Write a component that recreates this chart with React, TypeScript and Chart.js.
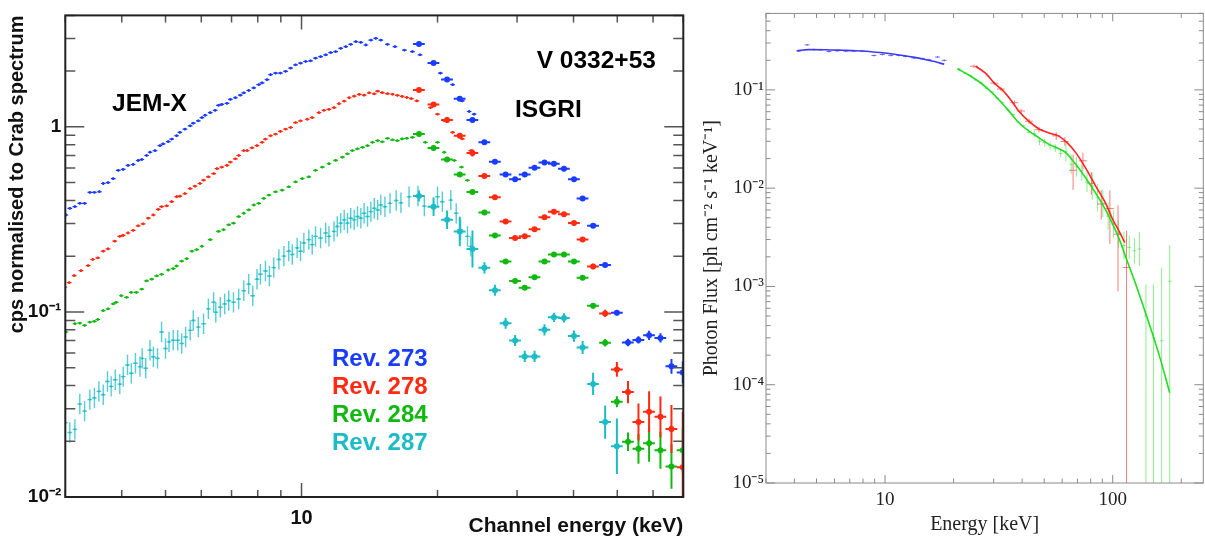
import React, { useEffect, useRef } from 'react';
import { Chart, registerables } from 'chart.js';

Chart.register(...registerables);

// ================= LEFT PANEL DATA (cps normalised to Crab) =================
// JEM-X, Rev. 273 (blue)
const jemBlueE = [3.01,3.07,3.15,3.23,3.31,3.40,3.48,3.57,3.64,3.73,
  3.83,3.93,4.03,4.13,4.24,4.35,4.43,4.54,4.62,4.74,
  4.86,4.94,5.07,5.16,5.29,5.38,5.52,5.67,5.76,5.91,
  6.02,6.12,6.28,6.44,6.55,6.66,6.84,6.96,7.14,7.32,
  7.45,7.64,7.84,8.04,8.18,8.39,8.54,8.76,8.98,9.22,
  9.46,9.70,9.95,10.21,10.47,10.74,11.02,11.31,11.60,11.90,
  12.21,12.53,12.85,13.19,13.53,13.88,14.24,14.60,14.98,15.5,
  16.1,16.9,17.6,18.3,20.3,21.6,22.7,23.5,24.1];
const jemBlueV = [0.334,0.363,0.371,0.386,0.386,0.442,0.442,0.446,0.494,0.500,
  0.525,0.582,0.589,0.619,0.626,0.658,0.666,0.700,0.729,0.744,
  0.792,0.808,0.832,0.859,0.895,0.933,0.972,1.013,1.047,1.077,
  1.122,1.155,1.193,1.228,1.306,1.322,1.339,1.406,1.436,1.483,
  1.526,1.571,1.623,1.692,1.727,1.799,1.913,1.953,1.953,1.994,
  2.077,2.163,2.209,2.254,2.273,2.349,2.398,2.447,2.519,2.550,
  2.657,2.712,2.791,2.884,2.860,2.768,2.944,3.006,2.944,2.79,
  2.71,2.60,2.55,2.45,1.95,1.69,1.38,1.21,1.17];

// JEM-X, Rev. 278 (red)
const jemRedE = [2.99,3.06,3.14,3.25,3.37,3.45,3.54,3.64,3.73,3.86,
  3.96,4.03,4.13,4.24,4.35,4.46,4.58,4.70,4.82,4.90,
  5.03,5.16,5.29,5.38,5.52,5.67,5.81,5.96,6.07,6.22,
  6.39,6.50,6.66,6.84,6.96,7.14,7.26,7.45,7.58,7.77,
  7.97,8.18,8.32,8.54,8.76,8.98,9.22,9.46,9.70,9.95,
  10.30,10.56,10.93,11.21,11.50,11.80,12.11,12.43,12.75,13.08,
  13.42,13.76,14.12,14.49,14.74,15.1,15.5,15.9,16.3,16.7,
  17.1,17.5,18.0,19.3,20.0,20.7,21.6,22.7,23.7];
const jemRedV = [0.136,0.144,0.157,0.167,0.178,0.192,0.196,0.213,0.219,0.241,
  0.256,0.259,0.267,0.276,0.292,0.299,0.321,0.334,0.358,0.371,
  0.374,0.394,0.419,0.422,0.436,0.464,0.478,0.494,0.515,0.536,
  0.559,0.594,0.606,0.619,0.645,0.672,0.700,0.744,0.744,0.769,
  0.792,0.825,0.859,0.895,0.914,0.945,0.972,0.992,1.055,1.077,
  1.099,1.122,1.193,1.228,1.243,1.269,1.333,1.378,1.436,1.465,
  1.496,1.483,1.527,1.508,1.558,1.53,1.51,1.50,1.48,1.46,
  1.44,1.42,1.38,1.27,1.17,1.08,0.933,0.86,0.744];

// JEM-X, Rev. 284 (green)
const jemGreenE = [3.01,3.15,3.23,3.31,3.40,3.48,3.54,3.64,3.73,3.83,
  3.89,3.99,4.10,4.20,4.31,4.43,4.54,4.66,4.78,4.90,
  5.07,5.20,5.29,5.43,5.57,5.72,5.86,6.02,6.28,6.55,
  6.72,6.90,7.07,7.26,7.45,7.64,7.84,8.04,8.25,8.47,
  8.76,9.06,9.37,9.70,10.04,10.38,10.74,11.12,11.50,11.90,
  12.32,12.64,12.96,13.30,13.65,14.00,14.36,14.74,15.1,15.5,
  15.9,16.3,16.7,17.1,17.6,18.8,20.0,20.7,21.8,22.6,
  23.3];
const jemGreenV = [0.0779,0.0863,0.0870,0.0845,0.0881,0.0888,0.0910,0.1017,0.1038,0.1104,
  0.1127,0.1223,0.1199,0.1274,0.1274,0.1328,0.1471,0.1502,0.1564,0.1597,
  0.1684,0.1713,0.1770,0.1882,0.1937,0.2129,0.2173,0.2264,0.2458,0.2723,
  0.2780,0.2956,0.3017,0.3276,0.3412,0.3555,0.3781,0.3860,0.4106,0.4277,
  0.4457,0.4549,0.4740,0.5040,0.5252,0.5361,0.5818,0.6062,0.6316,0.6581,
  0.6858,0.7144,0.7444,0.7600,0.7753,0.7914,0.8250,0.8419,0.83,0.867,
  0.85,0.842,0.86,0.867,0.877,0.825,0.825,0.729,0.658,0.606,
  0.514];

// JEM-X, Rev. 287 (cyan)
const jemCyanE = [3.00,3.07,3.15,3.23,3.31,3.40,3.48,3.56,3.64,3.72,
  3.79,3.87,3.96,4.03,4.12,4.20,4.29,4.39,4.44,4.52,
  4.62,4.70,4.80,4.90,5.00,5.09,5.20,5.32,5.43,5.54,
  5.67,5.76,5.91,6.07,6.22,6.39,6.46,6.61,6.76,6.90,
  7.07,7.26,7.45,7.64,7.80,7.97,8.11,8.32,8.49,8.68,
  8.91,9.14,9.37,9.54,9.78,9.95,10.12,10.38,10.56,10.74,
  11.02,11.31,11.50,11.80,12.00,12.21,12.43,12.64,12.85,13.08,
  13.30,13.53,13.76,14.00,14.24,14.49,14.74,14.98,15.3,15.7,
  16.2,16.6,17.3,18.1,18.7,20.0,20.5,21.4,22.0,22.5,
  23.3,23.7];
const jemCyanV = [0.0252,0.0223,0.0232,0.0318,0.0291,0.0336,0.0343,0.0372,0.0357,0.0421,
  0.0396,0.0430,0.0407,0.0447,0.0517,0.0466,0.0528,0.0506,0.0561,0.0496,
  0.0621,0.0572,0.0561,0.0779,0.0634,0.0689,0.0703,0.0703,0.0675,0.0732,
  0.0795,0.0899,0.0828,0.0863,0.1038,0.1127,0.0996,0.1060,0.1104,0.1150,
  0.1127,0.1174,0.1301,0.1412,0.1223,0.1502,0.1597,0.1664,0.1564,0.1734,
  0.1921,0.2002,0.2129,0.2043,0.2218,0.2129,0.2359,0.2458,0.2311,0.2560,
  0.2508,0.2668,0.2560,0.2723,0.2895,0.3017,0.3143,0.3017,0.3208,0.3143,
  0.3276,0.3208,0.3412,0.3276,0.3483,0.3630,0.3555,0.3781,0.370,0.386,
  0.40,0.389,0.419,0.423,0.373,0.419,0.394,0.402,0.341,0.278,
  0.256,0.226];

// ISGRI (shared energy bins, keV)
const isgriE = [18.2,19.6,21.0,22.4,23.9,25.4,26.8,28.3,29.7,31.2,32.8,34.5,36.2,38.1,40.1,41.9,44.2,47.0,49.9,52.8,55.7,58.8,62.3,65.9,69.8];
const isgriBlue = [2.80,2.21,1.80,1.42,1.09,0.825,0.647,0.552,0.521,0.552,0.601,0.642,0.632,0.594,0.521,0.410,0.292,0.179,0.099,0.0684,0.0706,0.0748,0.0724,0.0508,0.0471];
const isgriBlueErr = [0.01,0.01,0.012,0.012,0.012,0.01,0.01,0.01,0.01,0.01,0.01,0.01,0.01,0.01,0.01,0.01,0.012,0.012,0.015,0.02,0.02,0.025,0.025,0.04,0.06];
const isgriRed = [1.58,1.32,1.09,0.895,0.723,0.543,0.416,0.308,0.251,0.256,0.280,0.325,0.348,0.337,0.302,0.246,0.176,0.0982,0.0489,0.0369,0.0254,0.0289,0.0271,0.0233,0.0145];
const isgriRedErr = [0.01,0.01,0.015,0.012,0.02,0.01,0.01,0.01,0.01,0.01,0.01,0.01,0.01,0.01,0.01,0.012,0.015,0.02,0.04,0.06,0.1,0.11,0.11,0.13,0.3];
const isgriGreen = [0.914,0.769,0.666,0.552,0.445,0.344,0.259,0.187,0.147,0.135,0.154,0.187,0.204,0.204,0.187,0.153,0.108,0.0681,0.0327,0.0199,0.0182,0.0195,0.0179,0.0146,0.0179];
const isgriGreenErr = [0.01,0.01,0.012,0.012,0.012,0.01,0.01,0.01,0.01,0.01,0.01,0.01,0.01,0.01,0.01,0.012,0.015,0.02,0.03,0.05,0.08,0.1,0.1,0.12,0.12];
const isgriCyan = [0.423,0.37,0.315,0.272,0.219,0.173,0.131,0.0869,0.0701,0.0575,0.0575,0.0800,0.0935,0.0928,0.0740,0.0643,0.0408,0.0254,0.0188];
const isgriCyanErr = [0.03,0.05,0.05,0.08,0.1,0.03,0.03,0.03,0.03,0.03,0.03,0.03,0.025,0.025,0.03,0.035,0.06,0.09,0.15];

const legendRevs = ['Rev. 273', 'Rev. 278', 'Rev. 284', 'Rev. 287'];

// ================= RIGHT PANEL DATA (photon flux) =================
const fitBlueE = [4.1,4.6,5.5,6.5,7.5,8.5,9.5,10.8,12.0,13.5,15.0,16.5,18.2];
const fitBlueF = [0.250,0.257,0.256,0.253,0.250,0.246,0.240,0.232,0.224,0.214,0.204,0.194,0.182];
const datBlueE = [4.18,4.55,4.87,5.21,5.67,6.17,6.72,7.31,7.95,8.94,9.73,10.6,11.5,12.3,13.4,14.6,15.6,17.0,18.2];
const datBlueF = [0.248,0.287,0.257,0.2555,0.2457,0.2497,0.248,0.248,0.248,0.224,0.229,0.224,0.224,0.219,0.211,0.2075,0.2027,0.2158,0.1995];

const fitRedE = [25.0,27.7,30.2,32.8,35.7,38.8,42.9,47.5,52.5,58.0,63.2,68.8,76.1,84.2,93.1,100,107,113];
const fitRedF = [0.174,0.147,0.117,0.0995,0.079,0.0604,0.0478,0.040,0.0365,0.0338,0.0289,0.023,0.0160,0.0105,0.0070,0.0048,0.0036,0.0028];
const datRedE = [24.6,30.2,32.3,37.0,39.6,42.9,47.5,56.5,61.6,67.0,74.0,80.6,89.1,97.2,105.5];
const datRedF = [0.174,0.117,0.102,0.074,0.061,0.048,0.0394,0.0341,0.0298,0.0152,0.0190,0.0112,0.0069,0.0062,0.0034];
const datRedHi = [0.181,0.122,0.107,0.078,0.064,0.051,0.042,0.037,0.033,0.022,0.023,0.0145,0.0095,0.0095,0.0067];
const datRedLo = [0.167,0.112,0.097,0.070,0.058,0.045,0.037,0.031,0.027,0.0096,0.0155,0.0086,0.0048,0.0027,0.00089];
const limRedE = [115];
const limRedF = [0.00156];
const limRedHi = [0.0037];

const fitGreenE = [20.8,23.4,25.9,28.7,31.7,35.1,38.8,42.9,47.5,52.5,58.0,62.2,68.8,76.1,84.2,93.1,100,107,114,125,140,160,178];
const fitGreenF = [0.164,0.141,0.121,0.0995,0.079,0.0604,0.046,0.038,0.0325,0.0279,0.0252,0.0230,0.0175,0.0127,0.0089,0.0060,0.0043,0.0030,0.0020,0.00112,0.00052,0.00020,0.000083];
const datGreenE = [21.2,22.4,23.7,25.0,26.4,27.9,29.5,31.1,32.8,34.6,36.5,38.5,40.6,42.8,45.2,47.7,50.3,53.1,56.0,59.1,62.3,65.7,69.3,73.1,77.1,81.3,85.8,90.5,95.5,100.7,106.2,112.0,118.2,124.6,131.0];
const datGreenF = [0.163,0.148,0.140,0.126,0.118,0.104,0.095,0.082,0.074,0.063,0.056,0.047,0.043,0.037,0.036,0.030,0.029,0.027,0.0255,0.0225,0.0235,0.0175,0.0165,0.0150,0.0115,0.0105,0.0080,0.0070,0.0052,0.0043,0.0034,0.0026,0.0025,0.0023,0.0024];
const datGreenErr = [0.01,0.01,0.01,0.01,0.01,0.01,0.01,0.01,0.01,0.01,0.01,0.01,0.01,0.01,0.04,0.04,0.04,0.04,0.04,0.04,0.1,0.1,0.1,0.1,0.1,0.14,0.14,0.14,0.14,0.14,0.14,0.14,0.12,0.13,0.17];
const limGreenE = [140,151,164,178];
const limGreenF = [0.0005,0.0003,0.00028,0.00113];
const limGreenHi = [0.00105,0.00105,0.00155,0.00263];

// tick labels
const leftXTickVals = [10];
const leftXTickText = ['10'];
const leftYTickVals = [0.01, 0.1, 1];
const leftYTickText = ['10⁻²', '10⁻¹', '1'];
const rightXTickVals = [10, 100];
const rightXTickText = ['10', '100'];
const rightYTickVals = [1e-5, 1e-4, 1e-3, 1e-2, 1e-1];
const rightYTickText = ['10⁻⁵', '10⁻⁴', '10⁻³', '10⁻²', '10⁻¹'];

// ================= helpers =================
const SANS = '"Liberation Sans", Arial, Helvetica, sans-serif';
const SERIF = '"Liberation Serif", "Times New Roman", Times, serif';
const C_BLUE = '#1a3cff';
const C_RED = '#ff2a12';
const C_GREEN = '#10b810';
const C_CYAN = '#1cbcc6';

function pts(xs: number[], ys: number[]) {
  return xs.map((x, i) => ({ x, y: ys[i] }));
}

function labelFor(vals: number[], texts: string[]) {
  return (value: any) => {
    const v = Number(value);
    for (let i = 0; i < vals.length; i++) {
      if (Math.abs(Math.log10(v) - Math.log10(vals[i])) < 1e-6) return texts[i];
    }
    return null;
  };
}

function logSteps(min: number, max: number) {
  const out: { v: number; major: boolean }[] = [];
  const e0 = Math.floor(Math.log10(min));
  const e1 = Math.ceil(Math.log10(max));
  for (let e = e0; e <= e1; e++) {
    for (let k = 1; k <= 9; k++) {
      const v = k * Math.pow(10, e);
      if (v >= min * 0.9999 && v <= max * 1.0001) out.push({ v, major: k === 1 });
    }
  }
  return out;
}

function framePlugin(o: any) {
  return {
    id: 'frameTicks',
    afterDatasetsDraw(chart: any) {
      const { ctx, chartArea: a } = chart;
      const xs = chart.scales.x;
      const ys = chart.scales.y;
      ctx.save();
      ctx.strokeStyle = o.tickColor;
      ctx.lineWidth = o.tickWidth;
      ctx.beginPath();
      for (const t of logSteps(xs.min, xs.max)) {
        const p = xs.getPixelForValue(t.v);
        const L = t.major ? o.xMajor : o.xMinor;
        ctx.moveTo(p, a.bottom); ctx.lineTo(p, a.bottom - L);
        ctx.moveTo(p, a.top); ctx.lineTo(p, a.top + L);
      }
      for (const t of logSteps(ys.min, ys.max)) {
        const p = ys.getPixelForValue(t.v);
        const L = t.major ? o.yMajor : o.yMinor;
        ctx.moveTo(a.left, p); ctx.lineTo(a.left + L, p);
        ctx.moveTo(a.right, p); ctx.lineTo(a.right - L, p);
      }
      ctx.stroke();
      ctx.strokeStyle = o.frameColor;
      ctx.lineWidth = o.frameWidth;
      ctx.strokeRect(a.left, a.top, a.right - a.left, a.bottom - a.top);
      ctx.restore();
    },
  };
}

const errorBarPlugin = {
  id: 'errBars',
  beforeDatasetsDraw(chart: any) {
    const { ctx, chartArea: a } = chart;
    const xs = chart.scales.x;
    const ys = chart.scales.y;
    ctx.save();
    ctx.beginPath();
    ctx.rect(a.left, a.top, a.right - a.left, a.bottom - a.top);
    ctx.clip();
    chart.data.datasets.forEach((ds: any) => {
      const eb = ds.errorBars;
      if (!eb) return;
      ctx.strokeStyle = eb.color;
      ctx.lineWidth = eb.width;
      ctx.beginPath();
      ds.data.forEach((p: any, i: number) => {
        const px = xs.getPixelForValue(p.x);
        const py = ys.getPixelForValue(p.y);
        if (eb.xFrac) {
          ctx.moveTo(xs.getPixelForValue(p.x * (1 - eb.xFrac)), py);
          ctx.lineTo(xs.getPixelForValue(p.x * (1 + eb.xFrac)), py);
        }
        let lo: number | null = null;
        let hi: number | null = null;
        if (eb.yHi) {
          hi = eb.yHi[i];
          lo = eb.yLo ? eb.yLo[i] : ys.min;
        } else if (eb.yDex != null) {
          const d = Array.isArray(eb.yDex) ? eb.yDex[i] : eb.yDex;
          hi = p.y * Math.pow(10, d);
          lo = p.y / Math.pow(10, d);
        }
        if (hi != null && lo != null) {
          ctx.moveTo(px, ys.getPixelForValue(Math.max(lo, ys.min)));
          ctx.lineTo(px, ys.getPixelForValue(hi));
        }
      });
      ctx.stroke();
    });
    ctx.restore();
  },
};

function textPlugin(items: any[]) {
  return {
    id: 'texts',
    afterDraw(chart: any) {
      const ctx = chart.ctx;
      ctx.save();
      items.forEach((t) => {
        ctx.font = t.font;
        ctx.fillStyle = t.color;
        ctx.textAlign = t.align;
        ctx.textBaseline = 'middle';
        ctx.fillText(t.text, t.x, t.y);
      });
      ctx.restore();
    },
  };
}

function jemSet(color: string, e: number[], v: number[], barColor: string, yDex: number, barW: number, r: number) {
  return {
    data: pts(e, v),
    backgroundColor: color,
    borderColor: color,
    pointRadius: r,
    pointBorderWidth: 0,
    showLine: false,
    errorBars: { xFrac: 0.012, yDex, color: barColor, width: barW },
  };
}

function isgriSet(color: string, e: number[], v: number[], err: number[]) {
  return {
    data: pts(e, v),
    backgroundColor: color,
    borderColor: color,
    pointRadius: 3,
    pointBorderWidth: 0,
    showLine: false,
    errorBars: { xFrac: 0.03, yDex: err, color, width: 2 },
  };
}

function leftConfig() {
  const bold19 = { family: SANS, size: 19, weight: 'bold' as const };
  const bold20 = { family: SANS, size: 20, weight: 'bold' as const };
  const bold21 = { family: SANS, size: 21, weight: 'bold' as const };
  const legendFont = `bold 24px ${SANS}`;
  const annFont = `bold 24.5px ${SANS}`;
  return {
    type: 'scatter',
    data: {
      datasets: [
        jemSet(C_CYAN, jemCyanE, jemCyanV, 'rgba(28,188,198,0.75)', 0.055, 1.4, 1.1),
        isgriSet(C_CYAN, isgriE.slice(0, isgriCyan.length), isgriCyan, isgriCyanErr),
        jemSet(C_GREEN, jemGreenE, jemGreenV, C_GREEN, 0.006, 1.2, 1.4),
        isgriSet(C_GREEN, isgriE, isgriGreen, isgriGreenErr),
        jemSet(C_RED, jemRedE, jemRedV, C_RED, 0.006, 1.2, 1.4),
        isgriSet(C_RED, isgriE, isgriRed, isgriRedErr),
        jemSet(C_BLUE, jemBlueE, jemBlueV, C_BLUE, 0.006, 1.2, 1.4),
        isgriSet(C_BLUE, isgriE, isgriBlue, isgriBlueErr),
      ],
    },
    options: {
      responsive: false,
      animation: false,
      events: [],
      layout: { padding: { left: 0, top: 10.5, right: 16.7, bottom: 0 } },
      plugins: { legend: { display: false }, tooltip: { enabled: false } },
      scales: {
        x: {
          type: 'logarithmic',
          position: 'bottom',
          min: 3,
          max: 70,
          grid: { display: false, drawTicks: false, tickLength: 0 },
          border: { display: false },
          ticks: {
            autoSkip: false, maxRotation: 0, minRotation: 0, padding: 9,
            color: '#111', font: bold20,
            callback: labelFor(leftXTickVals, leftXTickText),
          },
          title: {
            display: true, text: 'Channel energy (keV)', align: 'end',
            color: '#111', font: bold21, padding: { top: 0, bottom: 1 },
          },
          afterFit: (s: any) => { s.height = 43; },
        },
        y: {
          type: 'logarithmic',
          position: 'left',
          min: 0.01,
          max: 4,
          grid: { display: false, drawTicks: false, tickLength: 0 },
          border: { display: false },
          ticks: {
            autoSkip: false, padding: 4, color: '#111', font: bold19,
            callback: labelFor(leftYTickVals, leftYTickText),
          },
          title: {
            display: true, text: 'cps normalised to Crab spectrum', align: 'end',
            color: '#111', font: bold20, padding: { top: 5, bottom: 0 },
          },
          afterFit: (s: any) => { s.width = 65.3; },
        },
      },
    },
    plugins: [
      errorBarPlugin,
      framePlugin({ tickColor: '#555', tickWidth: 1.5, frameColor: '#222', frameWidth: 2, xMajor: 14, xMinor: 7, yMajor: 19, yMinor: 10 }),
      textPlugin([
        { text: 'JEM-X', x: 149.5, y: 104, font: annFont, color: '#000', align: 'center' },
        { text: 'V 0332+53', x: 536.7, y: 61.5, font: annFont, color: '#000', align: 'left' },
        { text: 'ISGRI', x: 515, y: 110, font: annFont, color: '#000', align: 'left' },
        { text: legendRevs[0], x: 332, y: 359, font: legendFont, color: C_BLUE, align: 'left' },
        { text: legendRevs[1], x: 332, y: 387, font: legendFont, color: C_RED, align: 'left' },
        { text: legendRevs[2], x: 332, y: 415, font: legendFont, color: C_GREEN, align: 'left' },
        { text: legendRevs[3], x: 332, y: 443, font: legendFont, color: C_CYAN, align: 'left' },
      ]),
    ],
  };
}

function fitSet(color: string, e: number[], f: number[]) {
  return {
    data: pts(e, f),
    showLine: true,
    borderColor: color,
    backgroundColor: color,
    borderWidth: 1.6,
    pointRadius: 0,
    fill: false,
    cubicInterpolationMode: 'monotone',
  };
}

function crossSet(e: number[], f: number[], bars: any) {
  return {
    data: pts(e, f),
    showLine: false,
    pointRadius: 0,
    backgroundColor: bars.color,
    borderColor: bars.color,
    errorBars: bars,
  };
}

function rightConfig() {
  const serif19 = { family: SERIF, size: 19 };
  const serif20 = { family: SERIF, size: 20 };
  const bBar = 'rgba(80,80,255,0.8)';
  const rBar = 'rgba(255,70,70,0.72)';
  const gBar = 'rgba(60,228,60,0.6)';
  return {
    type: 'scatter',
    data: {
      datasets: [
        crossSet(datBlueE, datBlueF, { xFrac: 0.025, yDex: 0.01, color: bBar, width: 1 }),
        crossSet(datGreenE, datGreenF, { xFrac: 0.02, yDex: datGreenErr, color: gBar, width: 1 }),
        crossSet(limGreenE, limGreenF, { xFrac: 0.02, yHi: limGreenHi, color: gBar, width: 1 }),
        crossSet(datRedE, datRedF, { xFrac: 0.04, yHi: datRedHi, yLo: datRedLo, color: rBar, width: 1 }),
        crossSet(limRedE, limRedF, { xFrac: 0.04, yHi: limRedHi, color: rBar, width: 1 }),
        fitSet('#3c3cf2', fitBlueE, fitBlueF),
        fitSet('#22dd22', fitGreenE, fitGreenF),
        fitSet('#ff2424', fitRedE, fitRedF),
      ],
    },
    options: {
      responsive: false,
      animation: false,
      events: [],
      layout: { padding: { left: 0, top: 8.6, right: 1.7, bottom: 0 } },
      plugins: { legend: { display: false }, tooltip: { enabled: false } },
      scales: {
        x: {
          type: 'logarithmic',
          position: 'bottom',
          min: 3,
          max: 250,
          grid: { display: false, drawTicks: false, tickLength: 0 },
          border: { display: false },
          ticks: {
            autoSkip: false, maxRotation: 0, minRotation: 0, padding: 6,
            color: '#222', font: serif19,
            callback: labelFor(rightXTickVals, rightXTickText),
          },
          title: {
            display: true, text: 'Energy [keV]', align: 'center',
            color: '#222', font: serif20, padding: { top: 0, bottom: 3 },
          },
          afterFit: (s: any) => { s.height = 57; },
        },
        y: {
          type: 'logarithmic',
          position: 'left',
          min: 1e-5,
          max: 0.6,
          grid: { display: false, drawTicks: false, tickLength: 0 },
          border: { display: false },
          ticks: {
            autoSkip: false, padding: 2, color: '#222', font: serif19,
            callback: labelFor(rightYTickVals, rightYTickText),
          },
          title: {
            display: true, text: 'Photon Flux [ph cm⁻² s⁻¹ keV⁻¹]', align: 'center',
            color: '#222', font: serif20, padding: { top: 0, bottom: 0 },
          },
          afterFit: (s: any) => { s.width = 66; },
        },
      },
    },
    plugins: [
      errorBarPlugin,
      framePlugin({ tickColor: '#8a8a8a', tickWidth: 1, frameColor: '#8a8a8a', frameWidth: 1, xMajor: 8, xMinor: 4.5, yMajor: 9, yMinor: 4.5 }),
    ],
  };
}

export default function App() {
  const leftRef = useRef<HTMLCanvasElement>(null);
  const rightRef = useRef<HTMLCanvasElement>(null);

  useEffect(() => {
    document.body.style.margin = '0';
    const c1 = new Chart(leftRef.current as HTMLCanvasElement, leftConfig() as any);
    const c2 = new Chart(rightRef.current as HTMLCanvasElement, rightConfig() as any);
    return () => {
      c1.destroy();
      c2.destroy();
    };
  }, []);

  return (
    <div style={{ position: 'relative', width: 1205, height: 540, background: '#fff', overflow: 'hidden' }}>
      <canvas ref={leftRef} width={700} height={540} style={{ position: 'absolute', left: 0, top: 0, width: 700, height: 540 }} />
      <canvas ref={rightRef} width={505} height={540} style={{ position: 'absolute', left: 700, top: 0, width: 505, height: 540 }} />
    </div>
  );
}
